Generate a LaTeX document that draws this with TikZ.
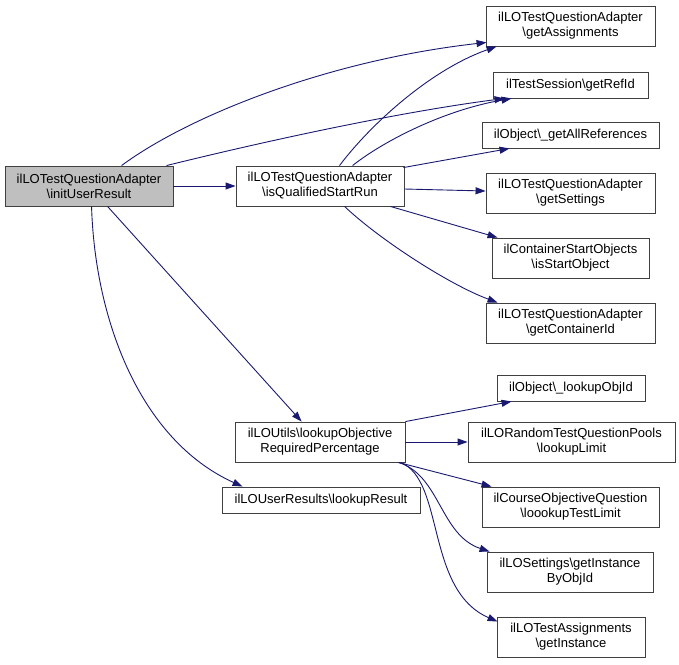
\documentclass[tikz,border=0pt]{standalone}
\usepackage{fontspec}
\setmainfont{Liberation Sans}
\usetikzlibrary{arrows.meta,calc}
\definecolor{edgec}{HTML}{191970}
\definecolor{rootfill}{HTML}{BFBFBF}
\begin{document}
\begin{tikzpicture}[x=1pt,y=-1pt,
  fn/.style={draw=black!75, line width=0.9pt, fill=white, inner sep=0pt, align=center,
             font=\fontsize{13}{15}\selectfont},
  edge/.style={draw=edgec, line width=0.9pt, -{Triangle[length=10pt,width=7pt]}}]
\useasboundingbox (0,0) rectangle (679,664);
% nodes
\node[fn, fill=rootfill, minimum width=168pt, minimum height=40pt] (root) at (89,186)
  {ilLOTestQuestionAdapter\\\textbackslash initUserResult};
\node[fn, minimum width=168pt, minimum height=40pt] (isq) at (320,186)
  {ilLOTestQuestionAdapter\\\textbackslash isQualifiedStartRun};
\node[fn, minimum width=169pt, minimum height=40pt] (getA) at (570.5,26)
  {ilLOTestQuestionAdapter\\\textbackslash getAssignments};
\node[fn, minimum width=155pt, minimum height=26pt] (refid) at (570.5,85)
  {ilTestSession\textbackslash getRefId};
\node[fn, minimum width=177pt, minimum height=26pt] (getAll) at (570.5,135)
  {ilObject\textbackslash\_getAllReferences};
\node[fn, minimum width=169pt, minimum height=40pt] (getS) at (570.5,193)
  {ilLOTestQuestionAdapter\\\textbackslash getSettings};
\node[fn, minimum width=157pt, minimum height=40pt] (isSO) at (570.5,258)
  {ilContainerStartObjects\\\textbackslash isStartObject};
\node[fn, minimum width=169pt, minimum height=40pt] (getC) at (570.5,323)
  {ilLOTestQuestionAdapter\\\textbackslash getContainerId};
\node[fn, minimum width=170pt, minimum height=40pt] (lop) at (320,442)
  {ilLOUtils\textbackslash lookupObjective\\RequiredPercentage};
\node[fn, minimum width=198pt, minimum height=26pt] (lres) at (321,500)
  {ilLOUserResults\textbackslash lookupResult};
\node[fn, minimum width=148pt, minimum height=26pt] (loid) at (571,388)
  {ilObject\textbackslash\_lookupObjId};
\node[fn, minimum width=207pt, minimum height=40pt] (llim) at (571.5,442)
  {ilLORandomTestQuestionPools\\\textbackslash lookupLimit};
\node[fn, minimum width=177pt, minimum height=40pt] (coq) at (570.5,507)
  {ilCourseObjectiveQuestion\\\textbackslash loookupTestLimit};
\node[fn, minimum width=166pt, minimum height=40pt] (gibo) at (570,572)
  {ilLOSettings\textbackslash getInstance\\ByObjId};
\node[fn, minimum width=148pt, minimum height=40pt] (gi) at (571,637)
  {ilLOTestAssignments\\\textbackslash getInstance};
% edges from root
\draw[edge] ($(root.north west)+(117,0)$) .. controls (190,115) and (330,60) .. ($(getA.south west)+(1,-4)$);
\draw[edge] ($(root.north west)+(162,0)$) .. controls (270,140) and (400,112) .. ($(refid.south west)+(12,0)$);
\draw[edge] (root.east) -- (isq.west);
\draw[edge] ($(root.south west)+(103,0)$) -- ($(lop.north west)+(67,0)$);
\draw[edge] ($(root.south west)+(87,0)$) .. controls (95,320) and (140,440) .. ($(lres.north west)+(21,0)$);
% edges from isQualifiedStartRun
\draw[edge] ($(isq.north west)+(104,0)$) .. controls (370,125) and (430,70) .. ($(getA.south west)+(11,0)$);
\draw[edge] ($(isq.north west)+(117,0)$) .. controls (385,140) and (445,110) .. ($(refid.south west)+(19,0)$);
\draw[edge] ($(isq.north east)+(-1,2)$) -- ($(getAll.south west)+(28,0)$);
\draw[edge] ($(isq.east)+(0,3)$) -- ($(getS.west)+(0,-2)$);
\draw[edge] ($(isq.south east)+(-14,0)$) -- ($(isSO.north west)+(6,0)$);
\draw[edge] ($(isq.south west)+(109,0)$) .. controls (380,240) and (450,285) .. ($(getC.north west)+(12,0)$);
% edges from lookupObjectiveRequiredPercentage
\draw[edge] (lop.north east) -- ($(loid.south west)+(15,0)$);
\draw[edge] (lop.east) -- (llim.west);
\draw[edge] ($(lop.south east)+(-7,0)$) -- ($(coq.north west)+(10,0)$);
\draw[edge] ($(lop.south east)+(-7,0)$) .. controls (440,475) and (440,535) .. ($(gibo.north west)+(3,0)$);
\draw[edge] ($(lop.south east)+(-5,0)$) .. controls (445,480) and (425,590) .. ($(gi.north west)+(1,5)$);
\end{tikzpicture}
\end{document}
